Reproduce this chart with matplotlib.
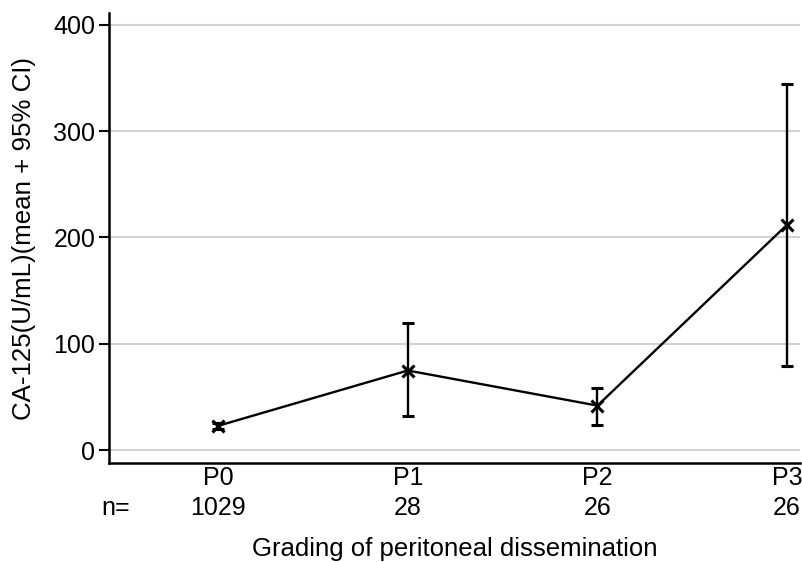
import matplotlib.pyplot as plt
import matplotlib.transforms as mtransforms

plt.rcParams['font.family'] = ['Liberation Sans', 'DejaVu Sans']

# --- Datos ---
grupos = ['P0', 'P1', 'P2', 'P3']
n_casos = ['1029', '28', '26', '26']
media = [23, 75, 42, 212]
ic_inf = [20, 32, 24, 79]
ic_sup = [26, 120, 59, 344]

x = list(range(len(grupos)))
err_low = [m - lo for m, lo in zip(media, ic_inf)]
err_high = [hi - m for m, hi in zip(media, ic_sup)]

fig = plt.figure(figsize=(8.02, 5.62), dpi=100)
ax = fig.add_axes([0.136, 0.176, 0.862, 0.801])

ax.errorbar(x, media, yerr=[err_low, err_high], color='black', linewidth=1.7,
            elinewidth=1.7, capsize=4, capthick=1.7, marker='x', markersize=8,
            markeredgewidth=2.2, zorder=3)

ax.set_ylim(-12, 411)
ax.set_xlim(-0.575, 3.07)
ax.set_yticks([0, 100, 200, 300, 400])
ax.grid(axis='y', color='#d2d2d2', linewidth=1.5)
ax.set_axisbelow(True)

ax.set_xticks(x)
ax.set_xticklabels(grupos)
ax.tick_params(axis='x', length=0, pad=2, labelsize=18)
ax.tick_params(axis='y', length=7, width=1.5, labelsize=18, pad=3)

# fila de "n=" debajo de las categorias
trans = mtransforms.blended_transform_factory(ax.transData, fig.transFigure)
y_n = (562 - 508) / 562
ax.text(-0.54, y_n, 'n=', transform=trans, ha='center', va='center', fontsize=18)
for xi, n in zip(x, n_casos):
    ax.text(xi, y_n, n, transform=trans, ha='center', va='center', fontsize=18)

for lado in ['top', 'right']:
    ax.spines[lado].set_visible(False)
for lado in ['left', 'bottom']:
    ax.spines[lado].set_linewidth(1.8)

ax.set_ylabel('CA-125(U/mL)(mean + 95% CI)', fontsize=18.6)
ax.yaxis.set_label_coords(-0.105, 0.5)
ax.set_xlabel('Grading of peritoneal dissemination', fontsize=18.5)
ax.xaxis.set_label_coords(0.5, -0.165)

plt.savefig('out.png', dpi=100)
